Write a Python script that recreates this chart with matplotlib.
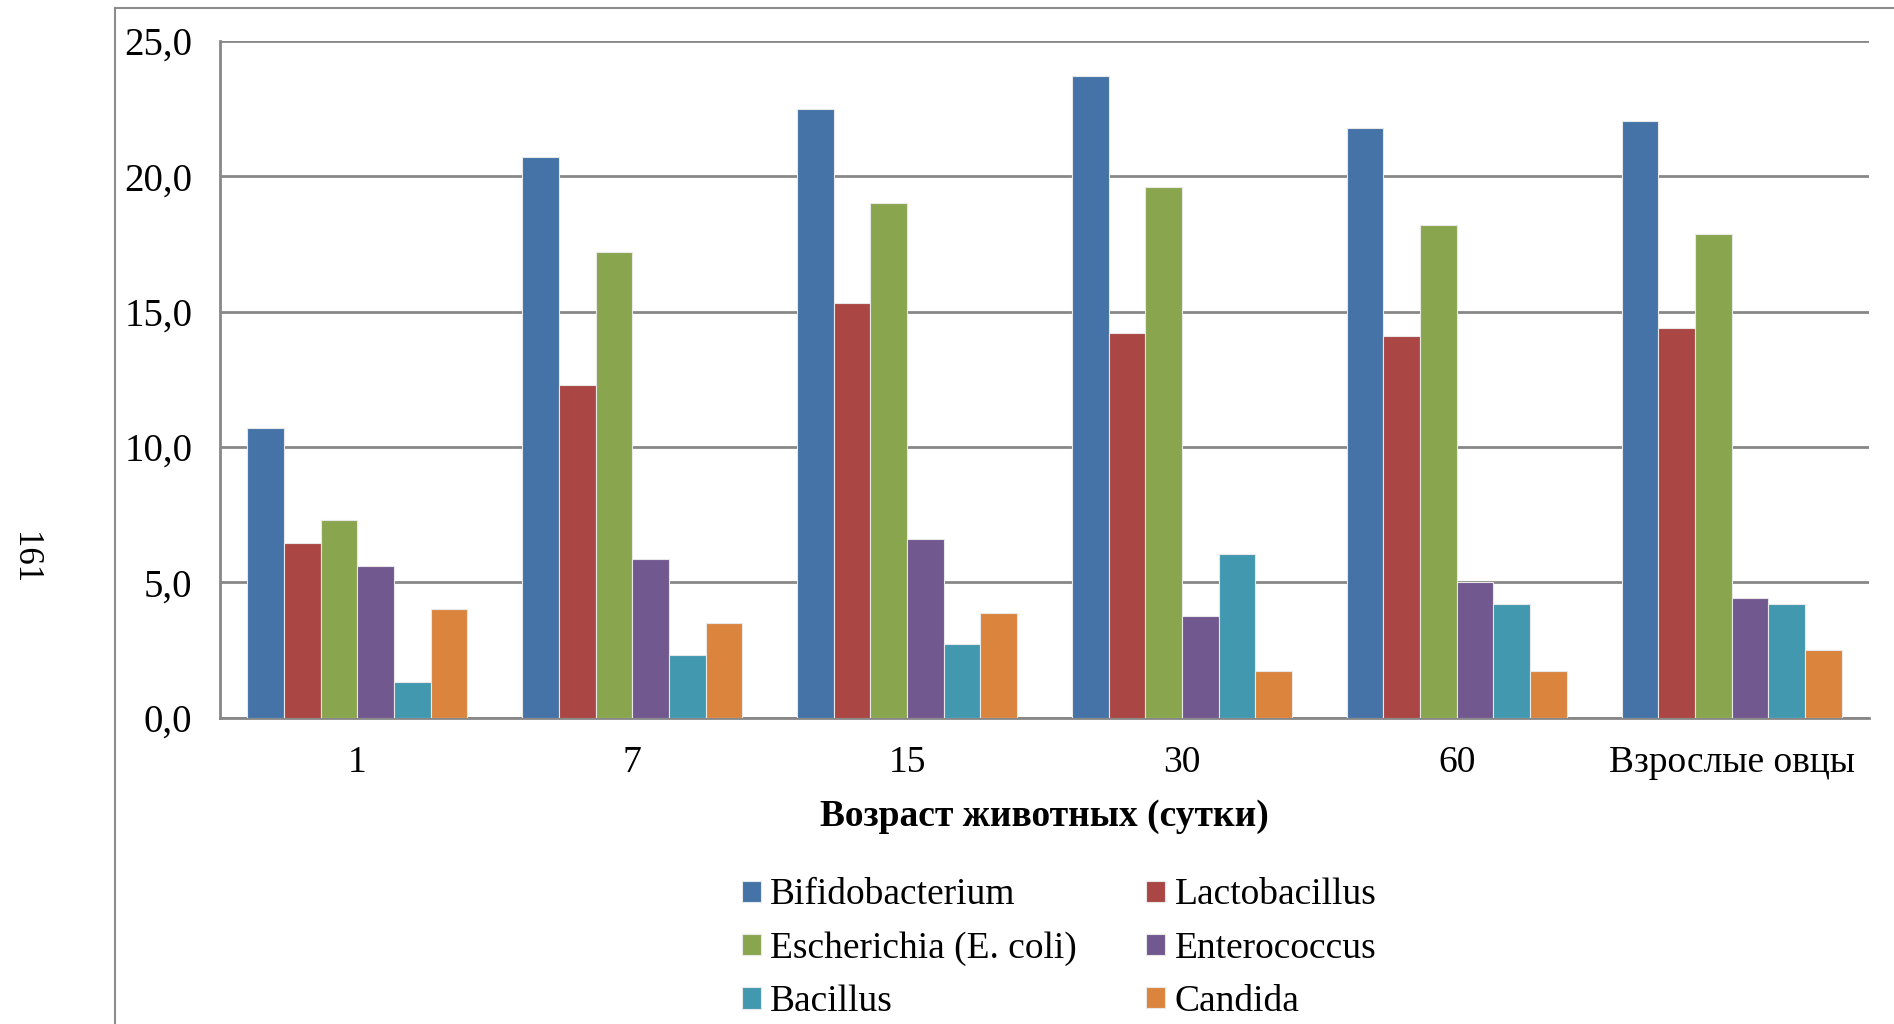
import matplotlib
matplotlib.use("Agg")
import matplotlib.pyplot as plt
import numpy as np
from matplotlib.lines import Line2D

categories = ["1", "7", "15", "30", "60", "Взрослые овцы"]
series_names = ["Bifidobacterium", "Lactobacillus", "Escherichia (E. coli)",
                "Enterococcus", "Bacillus", "Candida"]
bifidobacterium = [10.7, 20.7, 22.5, 23.7, 21.8, 22.05]
lactobacillus = [6.45, 12.3, 15.3, 14.2, 14.1, 14.4]
escherichia = [7.3, 17.2, 19.0, 19.6, 18.2, 17.85]
enterococcus = [5.6, 5.85, 6.6, 3.75, 5.0, 4.4]
bacillus = [1.3, 2.3, 2.7, 6.05, 4.2, 4.2]
candida = [4.0, 3.5, 3.85, 1.7, 1.7, 2.5]
yticks = [0, 5, 10, 15, 20, 25]
ytick_labels = ["0,0", "5,0", "10,0", "15,0", "20,0", "25,0"]
xlabel = "Возраст животных (сутки)"
page_number = "161"

series = [bifidobacterium, lactobacillus, escherichia, enterococcus, bacillus, candida]
colors = ["#4572A7", "#AA4643", "#89A54E", "#71588F", "#4198AF", "#DB843D"]

plt.rcParams['font.family'] = ['Liberation Serif', 'DejaVu Serif']

W, H = 1894, 1024
fig = plt.figure(figsize=(W / 100, H / 100), dpi=100)

# outer frame lines (left and top)
fig.add_artist(Line2D([115 / W, 115 / W], [0, 1 - 8 / H], color="#8c8c8c", lw=1.5,
                      transform=fig.transFigure))
fig.add_artist(Line2D([115 / W, 1], [1 - 8 / H, 1 - 8 / H], color="#8c8c8c", lw=1.5,
                      transform=fig.transFigure))

left, right = 220 / W, 1869 / W
bottom, top = 1 - 717.5 / H, 1 - 41 / H
ax = fig.add_axes([left, bottom, right - left, top - bottom])

n = len(series)
x = np.arange(len(categories))
bw = 0.8 / n
handles = []
for i, (vals, c, name) in enumerate(zip(series, colors, series_names)):
    b = ax.bar(x - 0.4 + bw * (i + 0.5), vals, width=bw, color=c,
               edgecolor="#e8e8e8", linewidth=0.8, label=name, zorder=3)
    handles.append(b)

ax.set_xlim(-0.5, len(categories) - 0.5)
ax.set_ylim(0, 25)
ax.set_yticks(yticks)
ax.set_yticklabels(ytick_labels)
ax.set_xticks(x)
ax.set_xticklabels(categories)
ax.tick_params(axis='both', length=0, labelsize=27, colors="black")
ax.tick_params(axis='y', pad=20, labelsize=28)
ax.tick_params(axis='x', pad=20.5)
ax.yaxis.grid(True, color="#878787", linewidth=2, zorder=0)
ax.set_axisbelow(True)
for s in ["top", "right"]:
    ax.spines[s].set_visible(False)
for s in ["left", "bottom"]:
    ax.spines[s].set_color("#878787")
    ax.spines[s].set_linewidth(2)

ax.set_xlabel(xlabel, fontsize=27, fontweight="bold", labelpad=13.5)

order = [0, 2, 4, 1, 3, 5]
leg = fig.legend([handles[i] for i in order], [series_names[i] for i in order],
                 ncol=2, loc="upper left", bbox_to_anchor=(742 / W, 1 - 878 / H),
                 frameon=False, fontsize=27, handlelength=0.5, handleheight=0.5,
                 handletextpad=0.25, columnspacing=1.85, labelspacing=0.5,
                 borderpad=0, borderaxespad=0)

fig.text(24 / W, 1 - 558 / H, page_number, rotation=-90, fontsize=25,
         ha="center", va="center")

fig.savefig("out.png", dpi=100)
